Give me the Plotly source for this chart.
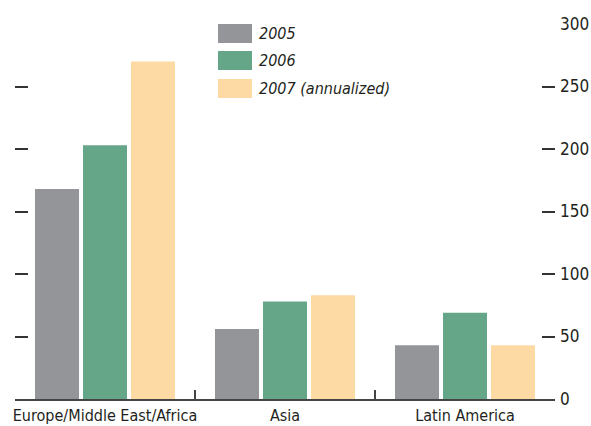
import plotly.graph_objects as go

categories = ["Europe/Middle East/Africa", "Asia", "Latin America"]
series_names = ["2005", "2006", "2007 (annualized)"]
values_2005 = [168, 56, 43]
values_2006 = [203, 78, 69]
values_2007 = [270, 83, 43]
colors = ["#939598", "#66a688", "#fdd9a4"]
y_ticks = [0, 50, 100, 150, 200, 250, 300]

FONT = "Liberation Sans Narrow, DejaVu Sans Condensed, Roboto Condensed, Roboto, sans-serif"
TXT = "#231f20"

fig = go.Figure()
for name, vals, col in zip(series_names, [values_2005, values_2006, values_2007], colors):
    fig.add_trace(go.Bar(x=categories, y=vals, name=name, marker_color=col,
                         marker_line_width=0, yaxis="y", showlegend=False))

# invisible trace to activate left tick axis
fig.add_trace(go.Scatter(x=[categories[0]], y=[0], yaxis="y2", mode="markers",
                         marker=dict(opacity=0), showlegend=False, hoverinfo="skip"))

fig.update_layout(
    width=591, height=426,
    margin=dict(l=15, r=36, t=24, b=27),
    paper_bgcolor="white", plot_bgcolor="white",
    barmode="group", bargap=0.2, bargroupgap=0.083,
    font=dict(family=FONT, color=TXT, size=16),
    xaxis=dict(showline=True, linecolor="#444444", linewidth=1.5,
               ticks="inside", ticklen=9, tickwidth=1.5, tickcolor="#444444",
               tickson="boundaries", showgrid=False, tickangle=0, automargin=False,
               ticklabelstandoff=1,
               tickfont=dict(family=FONT, size=16, color=TXT)),
    yaxis=dict(side="right", range=[0, 300], tickvals=y_ticks,
               ticks="inside", ticklen=13, tickwidth=1.5, tickcolor="#333333",
               showgrid=False, zeroline=False, showline=False, automargin=False,
               ticklabelstandoff=4,
               tickfont=dict(family=FONT, size=17, color=TXT)),
    yaxis2=dict(side="left", overlaying="y", range=[0, 300], tickvals=y_ticks[1:],
                ticks="inside", ticklen=13, tickwidth=1.5, tickcolor="#333333",
                showticklabels=False, showgrid=False, zeroline=False, showline=False,
                automargin=False),
)

# manual legend (large swatches)
row_tops = [24, 51, 79]
for i, (name, col) in enumerate(zip(series_names, colors)):
    top = row_tops[i]
    y1 = (399 - top) / 375
    y0 = (399 - (top + 19)) / 375
    fig.add_shape(type="rect", xref="paper", yref="paper",
                  x0=(218 - 15) / 540, x1=(252 - 15) / 540, y0=y0, y1=y1,
                  fillcolor=col, line_width=0)
    fig.add_annotation(xref="paper", yref="paper", x=(257 - 15) / 540, y=(y0 + y1) / 2,
                       text=f"<i>{name}</i>", showarrow=False, xanchor="left", yanchor="middle",
                       font=dict(family=FONT, size=16, color=TXT))

fig.write_html("out.html", config={"displayModeBar": False},
               post_script="document.body.style.margin='0';")
